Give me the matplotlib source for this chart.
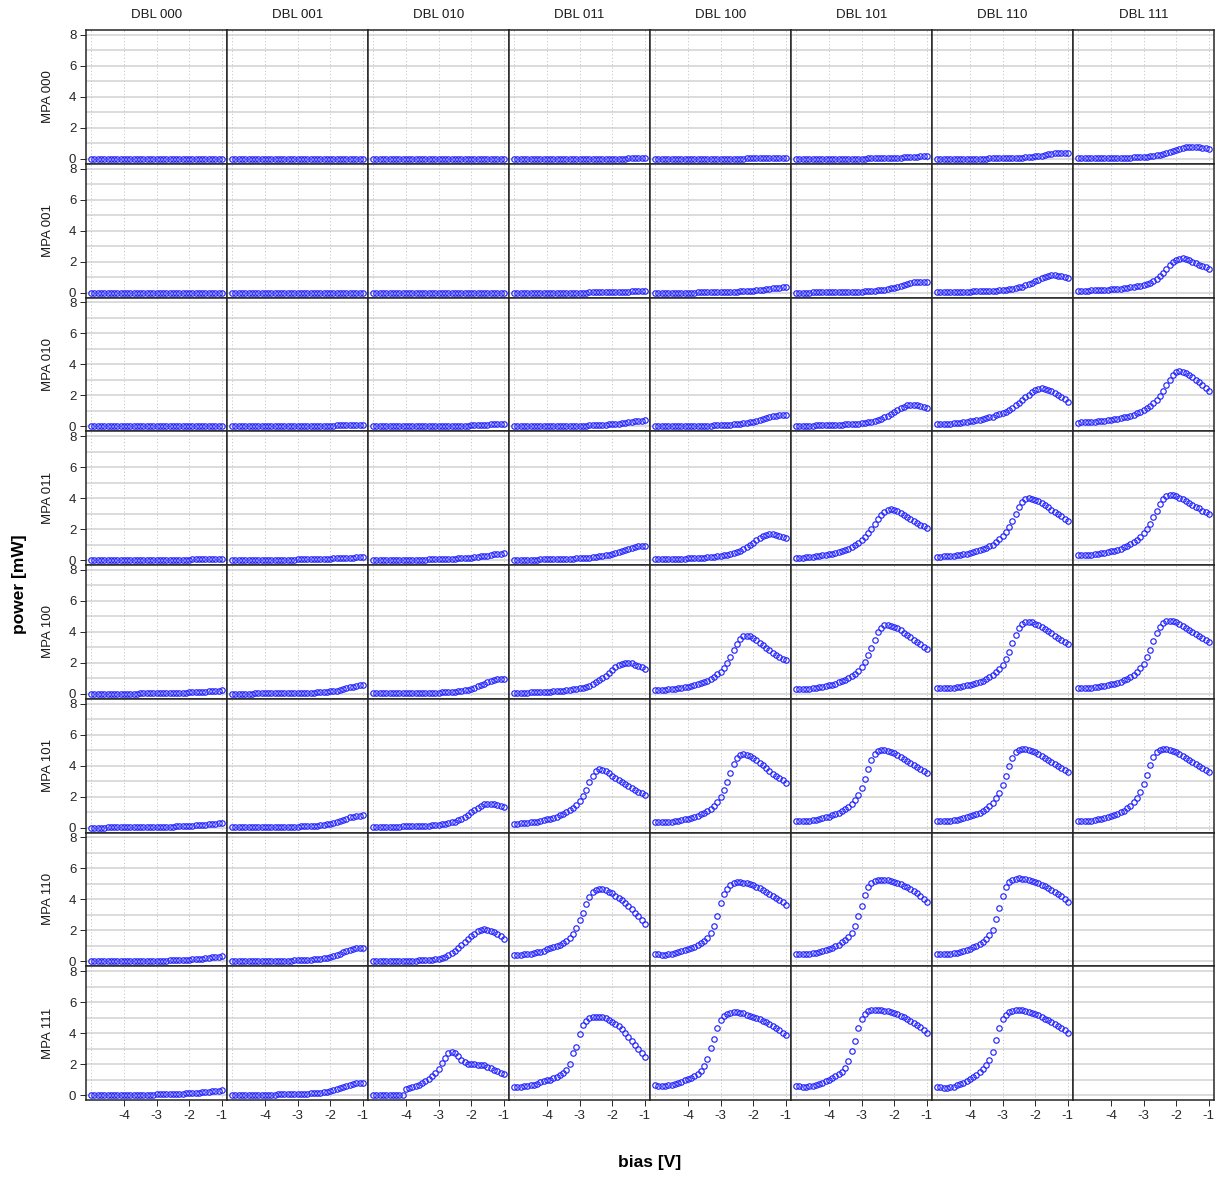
import matplotlib.pyplot as plt

plt.rcParams['font.family'] = ['Liberation Sans', 'DejaVu Sans']
plt.rcParams['axes.unicode_minus'] = False

# bias sweep [V]
bias = [-5.0, -4.9, -4.8, -4.7, -4.6, -4.5, -4.4, -4.3, -4.2, -4.1,
        -4.0, -3.9, -3.8, -3.7, -3.6, -3.5, -3.4, -3.3, -3.2, -3.1,
        -3.0, -2.9, -2.8, -2.7, -2.6, -2.5, -2.4, -2.3, -2.2, -2.1,
        -2.0, -1.9, -1.8, -1.7, -1.6, -1.5, -1.4, -1.3, -1.2, -1.1, -1.0]

dbl_settings = ['DBL 000', 'DBL 001', 'DBL 010', 'DBL 011',
                'DBL 100', 'DBL 101', 'DBL 110', 'DBL 111']
mpa_settings = ['MPA 000', 'MPA 001', 'MPA 010', 'MPA 011',
                'MPA 100', 'MPA 101', 'MPA 110', 'MPA 111']

# output power [mW], one curve per DBL setting (None = not measured)
mpa000 = [
    [0, 0, 0, 0, 0, 0, 0, 0, 0, 0, 0, 0, 0, 0, 0, 0, 0, 0, 0, 0,
     0, 0, 0, 0, 0, 0, 0, 0, 0, 0, 0, 0, 0, 0, 0, 0, 0, 0, 0, 0, 0],
    [0, 0, 0, 0, 0, 0, 0, 0, 0, 0, 0, 0, 0, 0, 0, 0, 0, 0, 0, 0,
     0, 0, 0, 0, 0, 0, 0, 0, 0, 0, 0, 0, 0, 0, 0, 0, 0, 0, 0, 0, 0],
    [0, 0, 0, 0, 0, 0, 0, 0, 0, 0, 0, 0, 0, 0, 0, 0, 0, 0, 0, 0,
     0, 0, 0, 0, 0, 0, 0, 0, 0, 0, 0, 0, 0, 0, 0, 0, 0, 0, 0, 0, 0],
    [0, 0, 0, 0, 0, 0, 0, 0, 0, 0, 0, 0, 0, 0, 0, 0, 0, 0, 0, 0,
     0, 0, 0, 0, 0, 0, 0, 0, 0.01, 0.01,
     0.01, 0.01, 0.01, 0.01, 0.01, 0.02, 0.02, 0.02, 0.02, 0.03, 0.03],
    [0, 0, 0, 0, 0, 0, 0, 0, 0, 0, 0, 0, 0, 0, 0, 0, 0, 0, 0, 0,
     0, 0, 0, 0.01, 0.01, 0.01, 0.01, 0.01, 0.02, 0.02,
     0.02, 0.02, 0.03, 0.03, 0.04, 0.04, 0.05, 0.05, 0.06, 0.06, 0.07],
    [0, 0, 0, 0, 0, 0, 0, 0, 0, 0,
     0, 0, 0, 0, 0, 0, 0.01, 0.01, 0.01, 0.01,
     0.01, 0.01, 0.02, 0.02, 0.02, 0.03, 0.03, 0.04, 0.05, 0.05,
     0.06, 0.07, 0.08, 0.09, 0.10, 0.12, 0.13, 0.14, 0.16, 0.17, 0.18],
    [0, 0, 0, 0, 0, 0, 0, 0, 0, 0,
     0.01, 0.01, 0.01, 0.01, 0.01, 0.01, 0.02, 0.02, 0.02, 0.03,
     0.03, 0.04, 0.04, 0.05, 0.06, 0.07, 0.08, 0.09, 0.11, 0.13,
     0.15, 0.18, 0.21, 0.25, 0.28, 0.32, 0.35, 0.37, 0.38, 0.37, 0.35],
    [0.03, 0.03, 0.03, 0.03, 0.03, 0.04, 0.04, 0.04, 0.04, 0.05,
     0.05, 0.05, 0.06, 0.06, 0.07, 0.07, 0.08, 0.09, 0.10, 0.11,
     0.12, 0.14, 0.16, 0.19, 0.22, 0.26, 0.31, 0.37, 0.44, 0.51,
     0.57, 0.64, 0.70, 0.74, 0.76, 0.76, 0.75, 0.73, 0.70, 0.67, 0.64],
]

mpa001 = [
    [0, 0, 0, 0, 0, 0, 0, 0, 0, 0, 0, 0, 0, 0, 0, 0, 0, 0, 0, 0,
     0, 0, 0, 0, 0, 0, 0, 0, 0, 0, 0, 0, 0, 0, 0, 0, 0, 0, 0, 0, 0],
    [0, 0, 0, 0, 0, 0, 0, 0, 0, 0, 0, 0, 0, 0, 0, 0, 0, 0, 0, 0,
     0, 0, 0, 0, 0, 0, 0, 0, 0, 0, 0, 0, 0, 0, 0, 0, 0, 0, 0, 0, 0],
    [0, 0, 0, 0, 0, 0, 0, 0, 0, 0, 0, 0, 0, 0, 0, 0, 0, 0, 0, 0,
     0, 0, 0, 0, 0, 0, 0, 0, 0, 0, 0, 0, 0, 0, 0, 0, 0, 0, 0, 0, 0],
    [0, 0, 0, 0, 0, 0, 0, 0, 0, 0, 0, 0, 0, 0, 0, 0, 0, 0, 0, 0,
     0, 0, 0, 0.01, 0.01, 0.01, 0.01, 0.02, 0.02, 0.02,
     0.03, 0.03, 0.04, 0.04, 0.05, 0.06, 0.07, 0.08, 0.09, 0.10, 0.12],
    [0, 0, 0, 0, 0, 0, 0, 0, 0, 0,
     0, 0, 0, 0.01, 0.01, 0.01, 0.01, 0.01, 0.02, 0.02,
     0.02, 0.03, 0.03, 0.04, 0.05, 0.06, 0.07, 0.08, 0.09, 0.11,
     0.13, 0.15, 0.17, 0.19, 0.22, 0.24, 0.27, 0.30, 0.32, 0.35, 0.37],
    [0, 0, 0, 0, 0, 0.01, 0.01, 0.01, 0.01, 0.01,
     0.01, 0.02, 0.02, 0.02, 0.03, 0.03, 0.03, 0.04, 0.05, 0.05,
     0.06, 0.07, 0.08, 0.10, 0.12, 0.14, 0.16, 0.19, 0.23, 0.27,
     0.32, 0.37, 0.43, 0.49, 0.55, 0.60, 0.65, 0.68, 0.70, 0.68, 0.65],
    [0.03, 0.03, 0.03, 0.04, 0.04, 0.04, 0.05, 0.05, 0.05, 0.06,
     0.06, 0.07, 0.07, 0.08, 0.09, 0.10, 0.11, 0.12, 0.13, 0.14,
     0.16, 0.18, 0.21, 0.24, 0.28, 0.33, 0.39, 0.46, 0.54, 0.64,
     0.74, 0.84, 0.93, 1.01, 1.07, 1.11, 1.12, 1.10, 1.06, 1.01, 0.95],
    [0.12, 0.12, 0.13, 0.13, 0.14, 0.15, 0.15, 0.16, 0.17, 0.18,
     0.20, 0.21, 0.23, 0.25, 0.27, 0.30, 0.33, 0.37, 0.41, 0.45,
     0.50, 0.56, 0.64, 0.75, 0.89, 1.05, 1.25, 1.50, 1.75, 1.95,
     2.10, 2.18, 2.20, 2.17, 2.10, 2.00, 1.90, 1.80, 1.70, 1.62, 1.55],
]

mpa010 = [
    [0, 0, 0, 0, 0, 0, 0, 0, 0, 0, 0, 0, 0, 0, 0, 0, 0, 0, 0, 0,
     0, 0, 0, 0, 0, 0, 0, 0.01, 0.01, 0.01,
     0.01, 0.01, 0.02, 0.02, 0.02, 0.03, 0.03, 0.04, 0.04, 0.05, 0.05],
    [0, 0, 0, 0, 0, 0, 0, 0, 0, 0,
     0, 0, 0, 0, 0, 0, 0, 0, 0.01, 0.01,
     0.01, 0.01, 0.01, 0.02, 0.02, 0.02, 0.03, 0.03, 0.04, 0.04,
     0.05, 0.05, 0.06, 0.06, 0.07, 0.08, 0.08, 0.09, 0.10, 0.10, 0.11],
    [0, 0, 0, 0, 0, 0, 0, 0, 0, 0,
     0, 0, 0, 0, 0, 0, 0.01, 0.01, 0.01, 0.01,
     0.01, 0.02, 0.02, 0.02, 0.03, 0.03, 0.04, 0.04, 0.05, 0.05,
     0.06, 0.07, 0.08, 0.09, 0.10, 0.11, 0.12, 0.13, 0.14, 0.15, 0.16],
    [0, 0, 0, 0, 0, 0, 0, 0, 0.01, 0.01,
     0.01, 0.01, 0.01, 0.01, 0.02, 0.02, 0.02, 0.02, 0.03, 0.03,
     0.04, 0.04, 0.05, 0.06, 0.06, 0.07, 0.08, 0.09, 0.11, 0.12,
     0.14, 0.16, 0.18, 0.20, 0.23, 0.25, 0.28, 0.31, 0.34, 0.36, 0.38],
    [0.01, 0.01, 0.01, 0.01, 0.01, 0.01, 0.02, 0.02, 0.02, 0.02,
     0.02, 0.03, 0.03, 0.03, 0.04, 0.04, 0.05, 0.05, 0.06, 0.06,
     0.07, 0.08, 0.09, 0.11, 0.12, 0.14, 0.16, 0.19, 0.22, 0.26,
     0.30, 0.35, 0.40, 0.46, 0.52, 0.58, 0.64, 0.69, 0.74, 0.76, 0.75],
    [0.04, 0.04, 0.04, 0.05, 0.05, 0.05, 0.06, 0.06, 0.07, 0.07,
     0.08, 0.08, 0.09, 0.10, 0.11, 0.12, 0.13, 0.14, 0.16, 0.18,
     0.20, 0.23, 0.26, 0.30, 0.35, 0.41, 0.48, 0.57, 0.67, 0.79,
     0.91, 1.04, 1.16, 1.27, 1.35, 1.40, 1.40, 1.36, 1.30, 1.23, 1.16],
    [0.12, 0.13, 0.14, 0.15, 0.17, 0.19, 0.21, 0.23, 0.26, 0.29,
     0.32, 0.35, 0.38, 0.42, 0.46, 0.52, 0.57, 0.63, 0.70, 0.77,
     0.85, 0.93, 1.05, 1.19, 1.35, 1.52, 1.70, 1.88, 2.05, 2.20,
     2.32, 2.41, 2.45, 2.43, 2.37, 2.28, 2.17, 2.04, 1.90, 1.75, 1.60],
    [0.24, 0.25, 0.26, 0.27, 0.28, 0.30, 0.32, 0.34, 0.36, 0.39,
     0.42, 0.45, 0.49, 0.53, 0.58, 0.63, 0.69, 0.76, 0.84, 0.93,
     1.04, 1.17, 1.32, 1.50, 1.72, 1.98, 2.30, 2.65, 3.00, 3.30,
     3.50, 3.55, 3.51, 3.42, 3.30, 3.16, 3.01, 2.85, 2.68, 2.48, 2.28],
]

mpa011 = [
    [0, 0, 0, 0, 0, 0, 0, 0, 0, 0,
     0, 0, 0, 0, 0, 0, 0, 0.01, 0.01, 0.01,
     0.01, 0.01, 0.01, 0.01, 0.02, 0.02, 0.02, 0.02, 0.03, 0.03,
     0.03, 0.04, 0.04, 0.04, 0.05, 0.05, 0.05, 0.06, 0.06, 0.07, 0.07],
    [0, 0, 0, 0, 0, 0.01, 0.01, 0.01, 0.01, 0.01,
     0.01, 0.01, 0.02, 0.02, 0.02, 0.02, 0.02, 0.03, 0.03, 0.03,
     0.04, 0.04, 0.04, 0.05, 0.05, 0.06, 0.06, 0.07, 0.08, 0.08,
     0.09, 0.10, 0.11, 0.12, 0.13, 0.14, 0.15, 0.16, 0.17, 0.18, 0.19],
    [0.01, 0.01, 0.01, 0.01, 0.01, 0.01, 0.01, 0.01, 0.02, 0.02,
     0.02, 0.02, 0.02, 0.03, 0.03, 0.03, 0.03, 0.04, 0.04, 0.05,
     0.05, 0.06, 0.06, 0.07, 0.08, 0.09, 0.10, 0.11, 0.13, 0.14,
     0.16, 0.18, 0.21, 0.23, 0.26, 0.29, 0.32, 0.36, 0.39, 0.42, 0.45],
    [0.02, 0.02, 0.02, 0.02, 0.03, 0.03, 0.03, 0.03, 0.04, 0.04,
     0.04, 0.05, 0.05, 0.06, 0.06, 0.07, 0.07, 0.08, 0.09, 0.10,
     0.11, 0.12, 0.14, 0.16, 0.18, 0.20, 0.23, 0.26, 0.30, 0.34,
     0.39, 0.45, 0.51, 0.58, 0.65, 0.72, 0.79, 0.85, 0.90, 0.92, 0.89],
    [0.05, 0.05, 0.05, 0.06, 0.06, 0.07, 0.07, 0.08, 0.08, 0.09,
     0.10, 0.11, 0.12, 0.13, 0.14, 0.16, 0.17, 0.19, 0.21, 0.24,
     0.27, 0.30, 0.34, 0.39, 0.45, 0.52, 0.61, 0.71, 0.83, 0.97,
     1.12, 1.27, 1.42, 1.54, 1.63, 1.67, 1.66, 1.61, 1.55, 1.48, 1.41],
    [0.14, 0.15, 0.16, 0.18, 0.20, 0.22, 0.24, 0.27, 0.30, 0.34,
     0.38, 0.42, 0.47, 0.52, 0.58, 0.65, 0.74, 0.85, 0.98, 1.13,
     1.30, 1.50, 1.74, 2.02, 2.34, 2.66, 2.94, 3.13, 3.24, 3.27,
     3.24, 3.16, 3.06, 2.94, 2.81, 2.68, 2.55, 2.42, 2.29, 2.17, 2.05],
    [0.22, 0.22, 0.23, 0.25, 0.27, 0.29, 0.32, 0.35, 0.38, 0.42,
     0.46, 0.51, 0.57, 0.63, 0.70, 0.78, 0.88, 1.00, 1.15, 1.33,
     1.55, 1.82, 2.15, 2.55, 3.00, 3.45, 3.78, 3.95, 3.99, 3.96,
     3.89, 3.79, 3.67, 3.54, 3.40, 3.26, 3.12, 2.97, 2.82, 2.66, 2.50],
    [0.30, 0.30, 0.31, 0.33, 0.35, 0.37, 0.40, 0.43, 0.47, 0.51,
     0.56, 0.61, 0.67, 0.74, 0.82, 0.91, 1.02, 1.15, 1.31, 1.50,
     1.73, 2.01, 2.35, 2.75, 3.20, 3.62, 3.95, 4.13, 4.19, 4.17,
     4.11, 4.03, 3.93, 3.82, 3.70, 3.58, 3.45, 3.33, 3.20, 3.08, 2.95],
]

mpa100 = [
    [0, 0, 0, 0, 0, 0, 0, 0, 0.01, 0.01,
     0.01, 0.01, 0.01, 0.01, 0.01, 0.02, 0.02, 0.02, 0.02, 0.03,
     0.03, 0.03, 0.04, 0.04, 0.05, 0.05, 0.06, 0.06, 0.07, 0.08,
     0.09, 0.10, 0.11, 0.12, 0.13, 0.14, 0.16, 0.17, 0.19, 0.20, 0.22],
    [0.01, 0.01, 0.01, 0.01, 0.01, 0.01, 0.01, 0.02, 0.02, 0.02,
     0.02, 0.02, 0.02, 0.03, 0.03, 0.03, 0.03, 0.04, 0.04, 0.04,
     0.05, 0.05, 0.06, 0.06, 0.07, 0.08, 0.09, 0.10, 0.11, 0.13,
     0.15, 0.18, 0.21, 0.25, 0.30, 0.35, 0.41, 0.46, 0.51, 0.55, 0.58],
    [0.02, 0.02, 0.02, 0.02, 0.02, 0.02, 0.03, 0.03, 0.03, 0.03,
     0.04, 0.04, 0.04, 0.05, 0.05, 0.05, 0.06, 0.06, 0.07, 0.07,
     0.08, 0.09, 0.10, 0.11, 0.12, 0.14, 0.16, 0.19, 0.22, 0.27,
     0.33, 0.40, 0.48, 0.57, 0.66, 0.75, 0.83, 0.89, 0.94, 0.96, 0.93],
    [0.07, 0.07, 0.07, 0.08, 0.08, 0.09, 0.09, 0.10, 0.11, 0.12,
     0.13, 0.14, 0.15, 0.17, 0.18, 0.20, 0.22, 0.25, 0.28, 0.31,
     0.35, 0.40, 0.46, 0.53, 0.62, 0.73, 0.86, 1.01, 1.18, 1.36,
     1.54, 1.71, 1.85, 1.95, 2.00, 2.00, 1.96, 1.89, 1.80, 1.70, 1.60],
    [0.25, 0.25, 0.26, 0.27, 0.29, 0.31, 0.33, 0.36, 0.39, 0.42,
     0.46, 0.50, 0.55, 0.61, 0.68, 0.76, 0.85, 0.96, 1.09, 1.25,
     1.44, 1.68, 1.98, 2.36, 2.80, 3.22, 3.55, 3.72, 3.76, 3.71,
     3.60, 3.46, 3.30, 3.13, 2.96, 2.80, 2.65, 2.51, 2.39, 2.28, 2.18],
    [0.30, 0.30, 0.31, 0.32, 0.34, 0.36, 0.39, 0.42, 0.46, 0.50,
     0.55, 0.60, 0.66, 0.73, 0.81, 0.90, 1.01, 1.14, 1.30, 1.50,
     1.75, 2.07, 2.48, 2.97, 3.50, 3.96, 4.27, 4.42, 4.45, 4.41,
     4.33, 4.22, 4.09, 3.95, 3.80, 3.65, 3.50, 3.35, 3.20, 3.05, 2.90],
    [0.35, 0.35, 0.35, 0.36, 0.38, 0.40, 0.43, 0.46, 0.50, 0.54,
     0.59, 0.64, 0.70, 0.77, 0.85, 0.95, 1.07, 1.21, 1.38, 1.60,
     1.88, 2.25, 2.72, 3.26, 3.80, 4.22, 4.49, 4.62, 4.65, 4.61,
     4.53, 4.43, 4.31, 4.18, 4.04, 3.90, 3.76, 3.62, 3.48, 3.34, 3.20],
    [0.38, 0.37, 0.37, 0.38, 0.40, 0.42, 0.45, 0.48, 0.52, 0.56,
     0.61, 0.66, 0.72, 0.79, 0.87, 0.97, 1.09, 1.24, 1.42, 1.65,
     1.95, 2.35, 2.85, 3.40, 3.93, 4.33, 4.57, 4.68, 4.71, 4.68,
     4.61, 4.51, 4.40, 4.28, 4.15, 4.02, 3.88, 3.75, 3.61, 3.48, 3.34],
]

mpa101 = [
    [0, 0, 0, 0, 0, 0.01, 0.01, 0.01, 0.01, 0.01,
     0.01, 0.01, 0.01, 0.02, 0.02, 0.02, 0.02, 0.03, 0.03, 0.03,
     0.04, 0.04, 0.05, 0.05, 0.06, 0.06, 0.07, 0.08, 0.09, 0.10,
     0.11, 0.12, 0.14, 0.15, 0.17, 0.19, 0.21, 0.23, 0.25, 0.28, 0.30],
    [0.01, 0.01, 0.01, 0.01, 0.01, 0.02, 0.02, 0.02, 0.02, 0.02,
     0.03, 0.03, 0.03, 0.03, 0.04, 0.04, 0.04, 0.05, 0.05, 0.06,
     0.06, 0.07, 0.08, 0.09, 0.10, 0.11, 0.13, 0.15, 0.17, 0.20,
     0.24, 0.29, 0.35, 0.42, 0.50, 0.58, 0.65, 0.71, 0.75, 0.77, 0.78],
    [0.04, 0.04, 0.04, 0.04, 0.05, 0.05, 0.05, 0.06, 0.06, 0.07,
     0.07, 0.08, 0.08, 0.09, 0.10, 0.11, 0.12, 0.13, 0.15, 0.16,
     0.18, 0.21, 0.24, 0.28, 0.33, 0.39, 0.47, 0.57, 0.69, 0.83,
     0.98, 1.13, 1.28, 1.41, 1.50, 1.55, 1.54, 1.49, 1.43, 1.36, 1.30],
    [0.25, 0.26, 0.27, 0.29, 0.31, 0.33, 0.36, 0.39, 0.43, 0.47,
     0.52, 0.57, 0.63, 0.70, 0.78, 0.87, 0.98, 1.11, 1.27, 1.47,
     1.72, 2.04, 2.45, 2.92, 3.36, 3.64, 3.75, 3.72, 3.63, 3.50,
     3.36, 3.22, 3.07, 2.93, 2.79, 2.66, 2.54, 2.43, 2.32, 2.22, 2.12],
    [0.35, 0.34, 0.34, 0.35, 0.37, 0.39, 0.42, 0.45, 0.49, 0.53,
     0.58, 0.64, 0.70, 0.77, 0.86, 0.96, 1.08, 1.23, 1.42, 1.66,
     1.97, 2.40, 2.95, 3.55, 4.10, 4.48, 4.67, 4.72, 4.69, 4.61,
     4.49, 4.35, 4.19, 4.02, 3.84, 3.66, 3.49, 3.33, 3.18, 3.04, 2.90],
    [0.45, 0.43, 0.42, 0.43, 0.45, 0.48, 0.51, 0.55, 0.60, 0.65,
     0.71, 0.78, 0.86, 0.95, 1.06, 1.19, 1.35, 1.55, 1.80, 2.13,
     2.58, 3.15, 3.78, 4.35, 4.75, 4.95, 5.02, 5.01, 4.96, 4.89,
     4.80, 4.69, 4.57, 4.45, 4.32, 4.18, 4.05, 3.92, 3.79, 3.66, 3.53],
    [0.45, 0.43, 0.42, 0.43, 0.45, 0.48, 0.51, 0.55, 0.60, 0.66,
     0.72, 0.79, 0.87, 0.97, 1.08, 1.22, 1.39, 1.60, 1.88, 2.24,
     2.72, 3.32, 3.95, 4.50, 4.85, 5.02, 5.08, 5.07, 5.02, 4.95,
     4.86, 4.75, 4.63, 4.51, 4.38, 4.25, 4.12, 3.99, 3.86, 3.73, 3.60],
    [0.45, 0.43, 0.42, 0.43, 0.45, 0.48, 0.52, 0.56, 0.61, 0.67,
     0.73, 0.80, 0.88, 0.98, 1.10, 1.24, 1.42, 1.64, 1.93, 2.30,
     2.80, 3.42, 4.05, 4.58, 4.90, 5.04, 5.08, 5.06, 5.01, 4.94,
     4.85, 4.74, 4.62, 4.50, 4.37, 4.24, 4.11, 3.98, 3.85, 3.72, 3.60],
]

mpa110 = [
    [0, 0, 0, 0, 0, 0.01, 0.01, 0.01, 0.01, 0.01,
     0.01, 0.01, 0.02, 0.02, 0.02, 0.02, 0.02, 0.03, 0.03, 0.03,
     0.04, 0.04, 0.05, 0.05, 0.06, 0.07, 0.07, 0.08, 0.09, 0.10,
     0.11, 0.13, 0.14, 0.16, 0.18, 0.20, 0.22, 0.25, 0.27, 0.30, 0.32],
    [0.01, 0.01, 0.01, 0.01, 0.01, 0.02, 0.02, 0.02, 0.02, 0.02,
     0.03, 0.03, 0.03, 0.03, 0.04, 0.04, 0.04, 0.05, 0.05, 0.06,
     0.06, 0.07, 0.08, 0.09, 0.10, 0.12, 0.14, 0.16, 0.19, 0.23,
     0.28, 0.34, 0.41, 0.50, 0.59, 0.68, 0.76, 0.82, 0.85, 0.86, 0.85],
    [0.03, 0.03, 0.03, 0.03, 0.03, 0.03, 0.03, 0.04, 0.04, 0.04,
     0.04, 0.05, 0.05, 0.05, 0.06, 0.06, 0.07, 0.08, 0.10, 0.13,
     0.17, 0.22, 0.30, 0.40, 0.52, 0.67, 0.86, 1.06, 1.25, 1.43,
     1.61, 1.78, 1.93, 2.02, 2.07, 2.05, 1.98, 1.88, 1.77, 1.63, 1.47],
    [0.39, 0.40, 0.42, 0.44, 0.47, 0.50, 0.53, 0.57, 0.61, 0.66,
     0.77, 0.83, 0.90, 0.98, 1.07, 1.18, 1.32, 1.50, 1.75, 2.12,
     2.65, 3.12, 3.72, 4.15, 4.45, 4.60, 4.66, 4.67, 4.60, 4.50,
     4.38, 4.24, 4.10, 3.94, 3.76, 3.57, 3.37, 3.15, 2.92, 2.64, 2.38],
    [0.47, 0.44, 0.42, 0.43, 0.46, 0.50, 0.54, 0.59, 0.64, 0.70,
     0.78, 0.86, 0.95, 1.05, 1.17, 1.32, 1.52, 1.80, 2.25, 2.90,
     3.75, 4.35, 4.68, 4.92, 5.05, 5.10, 5.10, 5.07, 5.03, 4.97,
     4.90, 4.82, 4.72, 4.61, 4.49, 4.37, 4.24, 4.11, 3.97, 3.82, 3.64],
    [0.48, 0.47, 0.46, 0.47, 0.49, 0.51, 0.55, 0.60, 0.66, 0.73,
     0.80, 0.88, 0.97, 1.08, 1.22, 1.38, 1.58, 1.85, 2.30, 2.90,
     3.60, 4.28, 4.78, 5.05, 5.18, 5.25, 5.27, 5.26, 5.23, 5.18,
     5.12, 5.05, 4.97, 4.88, 4.78, 4.67, 4.54, 4.40, 4.24, 4.05, 3.84],
    [0.47, 0.46, 0.46, 0.47, 0.49, 0.52, 0.56, 0.61, 0.67, 0.74,
     0.82, 0.91, 1.01, 1.13, 1.27, 1.44, 1.68, 2.05, 2.70, 3.45,
     4.25, 4.82, 5.12, 5.27, 5.33, 5.35, 5.34, 5.30, 5.25, 5.18,
     5.11, 5.03, 4.94, 4.84, 4.73, 4.61, 4.48, 4.34, 4.19, 4.02, 3.82],
    None,
]

mpa111 = [
    [0, 0, 0, 0, 0, 0, 0.01, 0.01, 0.01, 0.01,
     0.01, 0.01, 0.01, 0.02, 0.02, 0.02, 0.02, 0.03, 0.03, 0.03,
     0.04, 0.04, 0.05, 0.05, 0.06, 0.07, 0.07, 0.08, 0.09, 0.10,
     0.11, 0.12, 0.14, 0.15, 0.17, 0.19, 0.21, 0.23, 0.26, 0.28, 0.30],
    [0.01, 0.01, 0.01, 0.01, 0.01, 0.02, 0.02, 0.02, 0.02, 0.02,
     0.03, 0.03, 0.03, 0.03, 0.04, 0.04, 0.04, 0.05, 0.05, 0.06,
     0.06, 0.07, 0.08, 0.09, 0.10, 0.11, 0.13, 0.15, 0.18, 0.21,
     0.26, 0.31, 0.38, 0.45, 0.53, 0.61, 0.68, 0.74, 0.79, 0.81, 0.80],
    [0.03, 0.03, 0.03, 0.03, 0.03, 0.03, 0.03, 0.03, 0.03, 0.03,
     0.36, 0.43, 0.51, 0.60, 0.68, 0.79, 0.90, 1.05, 1.22, 1.43,
     1.71, 2.08, 2.40, 2.70, 2.78, 2.70, 2.52, 2.29, 2.12, 2.03,
     2.01, 2.00, 1.97, 1.96, 1.93, 1.84, 1.76, 1.65, 1.54, 1.43, 1.33],
    [0.51, 0.52, 0.54, 0.57, 0.60, 0.64, 0.68, 0.73, 0.83, 0.88,
     0.94, 0.99, 1.08, 1.16, 1.27, 1.43, 1.60, 2.00, 2.70, 3.10,
     3.95, 4.50, 4.80, 4.96, 5.04, 5.07, 5.06, 5.01, 4.95, 4.84,
     4.72, 4.60, 4.43, 4.25, 4.02, 3.76, 3.50, 3.24, 2.98, 2.72, 2.44],
    [0.63, 0.60, 0.59, 0.60, 0.63, 0.68, 0.74, 0.80, 0.87, 0.95,
     1.03, 1.12, 1.23, 1.38, 1.56, 1.90, 2.35, 3.05, 3.65, 4.32,
     4.82, 5.10, 5.25, 5.33, 5.35, 5.35, 5.32, 5.27, 5.20, 5.13,
     5.06, 4.98, 4.90, 4.80, 4.70, 4.60, 4.48, 4.35, 4.20, 4.03, 3.85],
    [0.58, 0.56, 0.55, 0.55, 0.57, 0.60, 0.65, 0.71, 0.79, 0.89,
     1.00, 1.10, 1.21, 1.33, 1.52, 1.75, 2.20, 2.85, 3.50, 4.30,
     4.90, 5.25, 5.40, 5.47, 5.50, 5.50, 5.48, 5.46, 5.42, 5.37,
     5.29, 5.21, 5.11, 5.01, 4.89, 4.77, 4.65, 4.52, 4.38, 4.22, 4.03],
    [0.55, 0.50, 0.47, 0.47, 0.50, 0.55, 0.62, 0.70, 0.80, 0.90,
     1.02, 1.15, 1.30, 1.48, 1.68, 1.95, 2.25, 2.75, 3.55, 4.35,
     4.90, 5.20, 5.37, 5.45, 5.50, 5.50, 5.48, 5.44, 5.38, 5.31,
     5.23, 5.14, 5.04, 4.94, 4.83, 4.71, 4.58, 4.45, 4.31, 4.17, 4.02],
    None,
]

power_rows = [mpa000, mpa001, mpa010, mpa011, mpa100, mpa101, mpa110, mpa111]

W, H = 1217, 1180
fig = plt.figure(figsize=(W / 100, H / 100), dpi=100)
left, right, top, bottom = 86 / W, 1214 / W, 1 - 30 / H, 1 - 1100 / H
gs = fig.add_gridspec(8, 8, left=left, right=right, top=top, bottom=bottom,
                      wspace=0, hspace=0)

marker_blue = '#2424ff'
frame = '#262626'

for r, row in enumerate(power_rows):
    for c, curve in enumerate(row):
        ax = fig.add_subplot(gs[r, c])
        ax.set_xlim(-5.16, -0.84)
        ax.set_ylim(-0.32, 8.32)
        for lvl in range(9):
            ax.axhline(lvl, color='#d9d9d9', lw=1.3, zorder=0)
        if curve is not None:
            for xv in (-5, -4, -3, -2, -1):
                ax.axvline(xv, color='#c8c8c8', lw=0.7, ls=(0, (1.2, 2.2)), zorder=0)
            ax.plot(bias, curve, 'o', mfc='none', mec=marker_blue,
                    ms=3.9, mew=0.85, zorder=3)
        ax.set_xticks([-4, -3, -2, -1])
        ax.set_yticks([0, 2, 4, 6, 8])
        ax.tick_params(direction='out', length=4.5, width=0.7, colors=frame,
                       labelsize=9.5, pad=2.5,
                       left=(c == 0), labelleft=(c == 0),
                       bottom=(r == 7), labelbottom=(r == 7),
                       top=False, right=False)
        for sp in ax.spines.values():
            sp.set_color(frame)
            sp.set_linewidth(1.1)

# strip labels and row labels
col_w = (right - left) / 8
row_h = (top - bottom) / 8
for c, name in enumerate(dbl_settings):
    fig.text(left + col_w * (c + 0.5), 1 - 15 / H, name,
             ha='center', va='center', fontsize=9.5, color='#1a1a1a')
for r, name in enumerate(mpa_settings):
    fig.text(48 / W, top - row_h * (r + 0.5), name, rotation=90,
             ha='center', va='center', fontsize=9.5, color='#1a1a1a')

fig.text(20 / W, 1 - 584 / H, 'power [mW]', rotation=90, ha='center',
         va='center', fontsize=12.5, fontweight='bold')
fig.text(650 / W, 1 - 1163 / H, 'bias [V]', ha='center', va='center',
         fontsize=12.5, fontweight='bold')

fig.savefig('out.png', dpi=100)
